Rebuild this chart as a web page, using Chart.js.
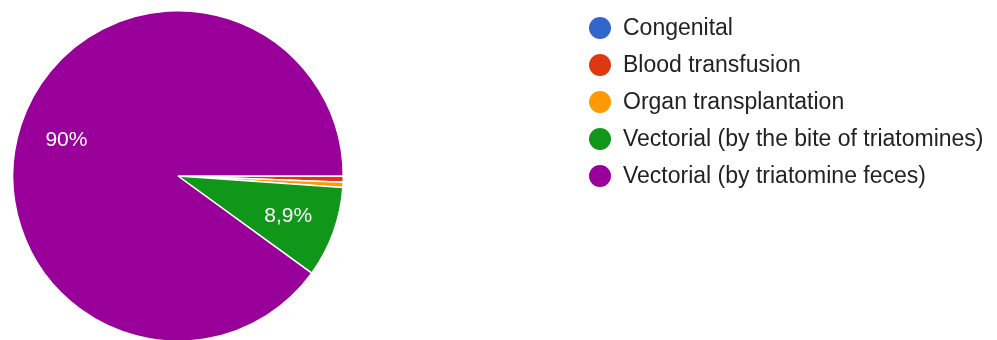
<!DOCTYPE html>
<html>
<head>
<meta charset="utf-8">
<script src="https://cdn.jsdelivr.net/npm/chart.js@4.4.0/dist/chart.umd.min.js"></script>
<style>
  html, body { margin: 0; padding: 0; background: #fff; overflow: hidden; }
  #wrap { position: relative; width: 997px; height: 342px; }
  #pie { position: absolute; left: 0; top: 0; }
  #legend { position: absolute; left: 589px; top: 9px; font-family: "Liberation Sans", Arial, sans-serif; font-size: 23px; color: #222; }
  .row { display: flex; align-items: center; height: 37px; white-space: nowrap; }
  .dot { width: 22px; height: 22px; border-radius: 50%; margin-right: 12px; flex: none; }
</style>
</head>
<body>
<div id="wrap">
  <canvas id="pie" width="997" height="342"></canvas>
  <div id="legend"></div>
</div>
<script>
const categories = ["Congenital", "Blood transfusion", "Organ transplantation", "Vectorial (by the bite of triatomines)", "Vectorial (by triatomine feces)"];
const percentages = [0, 0.6, 0.5, 8.9, 90.0];
const sliceColors = ["#3366cc", "#dc3912", "#ff9900", "#109618", "#990099"];

const labelPlugin = {
  id: 'sliceLabels',
  afterDatasetsDraw(chart) {
    const ctx = chart.ctx;
    const meta = chart.getDatasetMeta(0);
    ctx.save();
    ctx.font = '21px "Liberation Sans", Arial, sans-serif';
    ctx.fillStyle = '#ffffff';
    ctx.textAlign = 'center';
    ctx.textBaseline = 'middle';
    meta.data.forEach((arc, i) => {
      const v = percentages[i];
      if (v < 5) return;
      const mid = (arc.startAngle + arc.endAngle) / 2;
      const r = arc.outerRadius * 0.71;
      const x = arc.x + Math.cos(mid) * r;
      const y = arc.y + Math.sin(mid) * r;
      const txt = String(Number(v.toFixed(1))).replace('.', ',') + '%';
      ctx.fillText(txt, x, y);
    });
    ctx.restore();
  }
};

new Chart(document.getElementById('pie'), {
  type: 'pie',
  data: {
    labels: categories,
    datasets: [{
      data: percentages,
      backgroundColor: sliceColors,
      borderColor: '#ffffff',
      borderWidth: 1.5
    }]
  },
  options: {
    responsive: false,
    animation: false,
    rotation: 90,
    layout: { padding: { left: 12, top: 10, right: 653, bottom: 0 } },
    plugins: {
      legend: { display: false },
      tooltip: { enabled: false }
    }
  },
  plugins: [labelPlugin]
});

const legend = document.getElementById('legend');
categories.forEach((c, i) => {
  const row = document.createElement('div');
  row.className = 'row';
  const dot = document.createElement('span');
  dot.className = 'dot';
  dot.style.background = sliceColors[i];
  const t = document.createElement('span');
  t.textContent = c;
  row.appendChild(dot);
  row.appendChild(t);
  legend.appendChild(row);
});
</script>
</body>
</html>
